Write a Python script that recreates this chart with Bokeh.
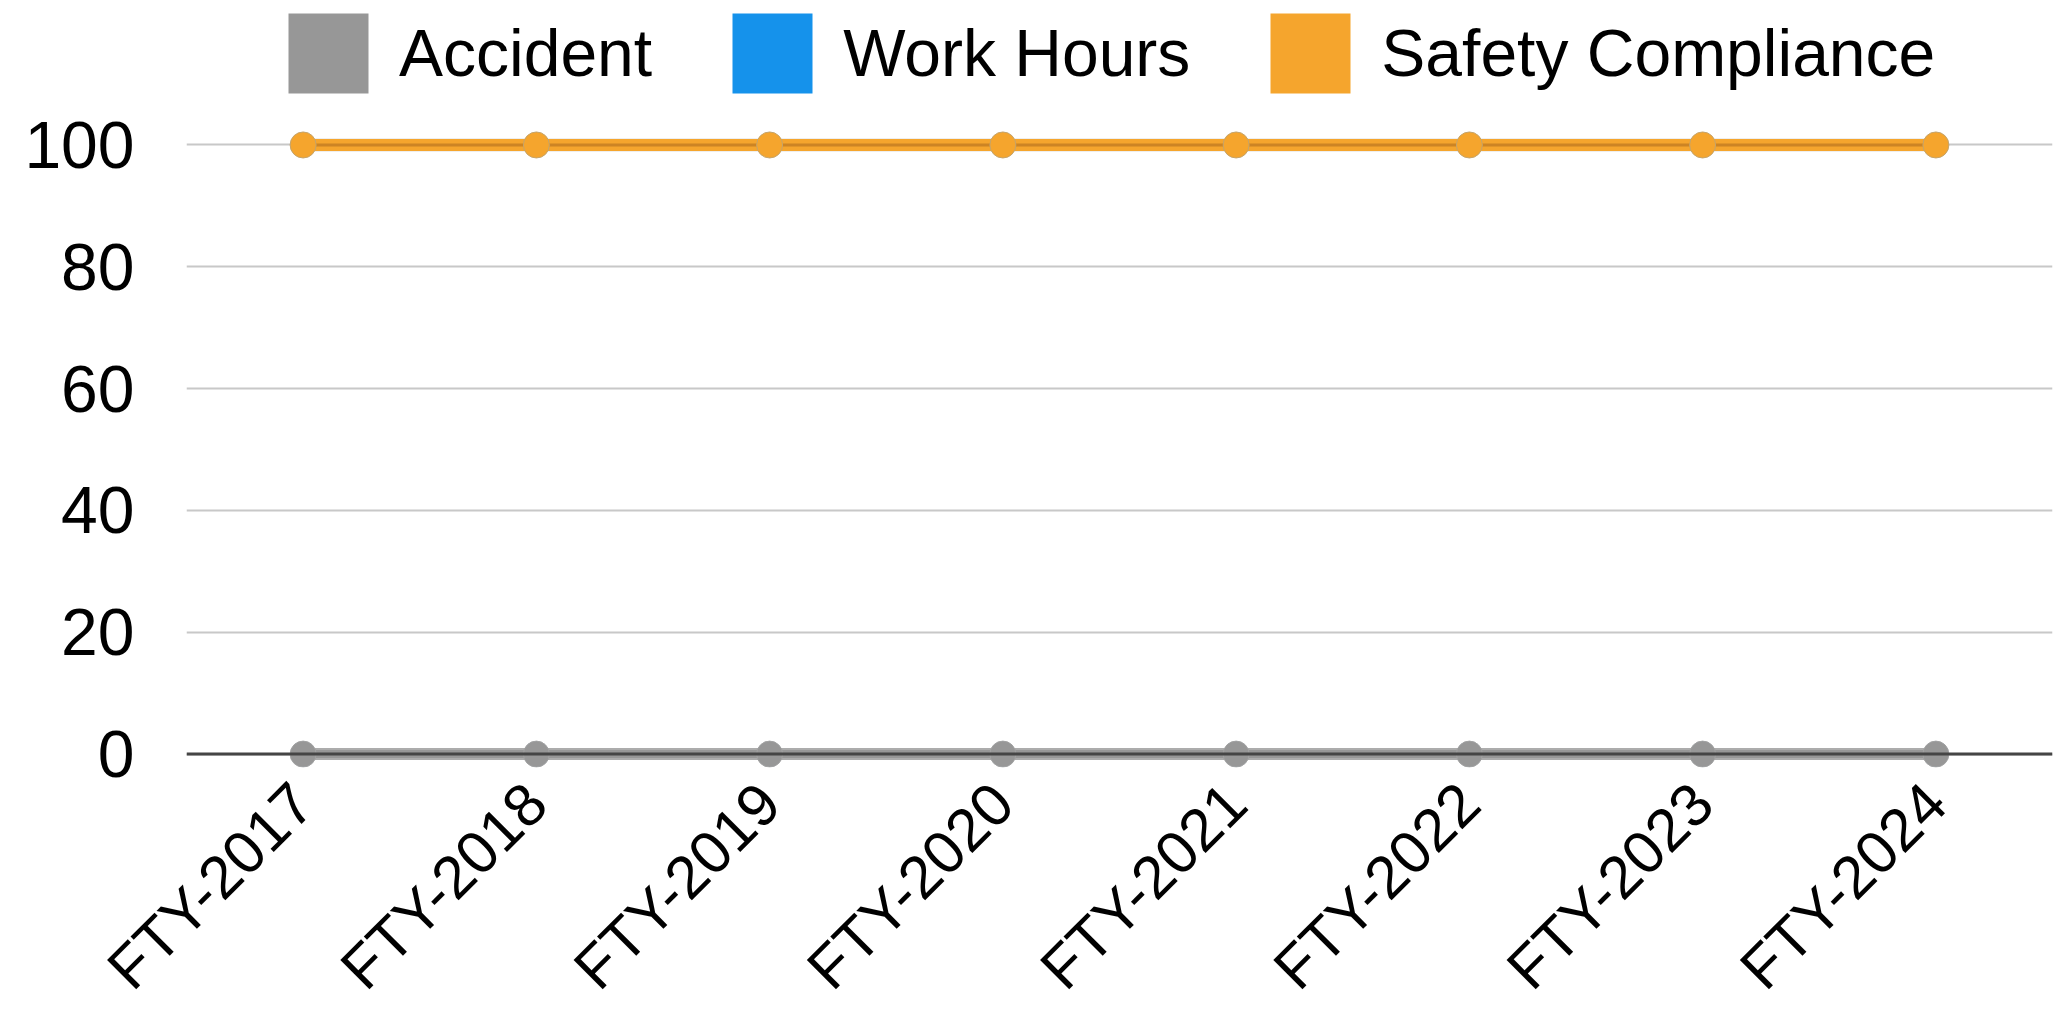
from math import pi
from bokeh.plotting import figure
from bokeh.models import Range1d, FactorRange, FixedTicker, Span, Legend, LegendItem
from bokeh.embed import file_html
from bokeh.resources import INLINE

years = ["FTY-2017", "FTY-2018", "FTY-2019", "FTY-2020",
         "FTY-2021", "FTY-2022", "FTY-2023", "FTY-2024"]
accident = [0, 0, 0, 0, 0, 0, 0, 0]
work_hours = [0, 0, 0, 0, 0, 0, 0, 0]
safety_compliance = [100, 100, 100, 100, 100, 100, 100, 100]
y_ticks = [0, 20, 40, 60, 80, 100]

GRAY = "#979797"
BLUE = "#1592EB"
ORANGE = "#F5A52D"
FONT = "Liberation Sans"

p = figure(x_range=FactorRange(*years, range_padding=0),
           y_range=Range1d(-2.2, 122.24),
           frame_width=1866, frame_height=758,
           min_border_left=186, min_border_right=2,
           min_border_top=9, min_border_bottom=0,
           output_backend="svg", toolbar_location=None)
p.outline_line_color = None
p.background_fill_color = "white"

p.xgrid.grid_line_color = None
p.ygrid.ticker = FixedTicker(ticks=y_ticks)
p.ygrid.grid_line_color = "#c8c8c8"
p.ygrid.grid_line_width = 2

p.yaxis.ticker = FixedTicker(ticks=y_ticks)
p.yaxis.axis_line_color = None
p.yaxis.major_tick_line_color = None
p.yaxis.minor_tick_line_color = None
p.yaxis.major_tick_out = 0
p.yaxis.major_label_standoff = 52
p.yaxis.major_label_text_font = FONT
p.yaxis.major_label_text_font_size = "66px"
p.yaxis.major_label_text_color = "black"

p.xaxis.axis_line_color = None
p.xaxis.major_tick_line_color = None
p.xaxis.major_tick_out = 0
p.xaxis.major_label_orientation = pi / 4
p.xaxis.major_label_standoff = 26
p.xaxis.major_label_text_font = FONT
p.xaxis.major_label_text_font_size = "60px"
p.xaxis.major_label_text_color = "black"

# Work hours (drawn first)
p.line(years, work_hours, line_color=BLUE, line_width=12)
p.scatter(years, work_hours, size=25, fill_color=BLUE, line_color=None)

# Accident
p.line(years, accident, line_color="#acacac", line_width=12)
p.line(years, accident, line_color=GRAY, line_width=8)
p.scatter(years, accident, size=26, fill_color=GRAY, line_color="#a3a3a3", line_width=1)

# Safety compliance
p.line(years, safety_compliance, line_color="#c8c8c8", line_width=13, line_alpha=0.6)
p.line(years, safety_compliance, line_color=ORANGE, line_width=12)
p.line(years, safety_compliance, line_color="#CC8424", line_width=3)
p.scatter(years, safety_compliance, size=26, fill_color=ORANGE, line_color="#c4a46c", line_width=1)

p.add_layout(Span(location=0, dimension="width", line_color="#454545", line_width=3))

# Legend swatches (off-screen data, used only for the legend)
off = [-1000]
off2 = [-999]
r_acc = p.quad(left=years[:1], right=years[1:2], top=off2, bottom=off, fill_color=GRAY, line_color=None, border_radius=3)
r_wh = p.quad(left=years[:1], right=years[1:2], top=off2, bottom=off, fill_color=BLUE, line_color=None, border_radius=3)
r_sc = p.quad(left=years[:1], right=years[1:2], top=off2, bottom=off, fill_color=ORANGE, line_color=None, border_radius=3)

legend = Legend(items=[LegendItem(label="Accident", renderers=[r_acc]),
                       LegendItem(label="Work Hours", renderers=[r_wh]),
                       LegendItem(label="Safety Compliance", renderers=[r_sc])],
                orientation="horizontal", location=(92, 664),
                glyph_width=100, glyph_height=100, label_standoff=21, spacing=70,
                padding=0, margin=0, border_line_color=None, background_fill_alpha=0,
                label_text_font=FONT, label_text_font_size="66px",
                label_text_color="black", label_height=100)
p.add_layout(legend, "center")

open("out.html", "w").write(file_html(p, INLINE))
